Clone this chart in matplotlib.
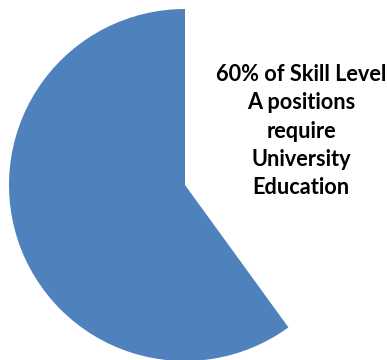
import matplotlib
matplotlib.use("Agg")
import matplotlib.pyplot as plt

# share of Skill Level A positions that require a university education
shares = [60, 40]
slice_colors = ["#4F81BD", "none"]
caption = "60% of Skill Level\nA positions\nrequire\nUniversity\nEducation"

W, H = 387, 360
fig = plt.figure(figsize=(W / 100, H / 100), dpi=100)
ax = fig.add_axes([0, 0, 1, 1])

ax.pie(shares, colors=slice_colors, startangle=90, counterclock=True,
       center=(185, 175), radius=176, frame=True,
       wedgeprops=dict(linewidth=0))
ax.set_xlim(0, W)
ax.set_ylim(0, H)
ax.set_aspect("equal")
ax.axis("off")

ax.text(301, 229, caption, ha="center", va="center", fontsize=15.7,
        fontweight="bold", family="Lato", linespacing=1.43, color="black")

fig.savefig("out.png", dpi=100)
